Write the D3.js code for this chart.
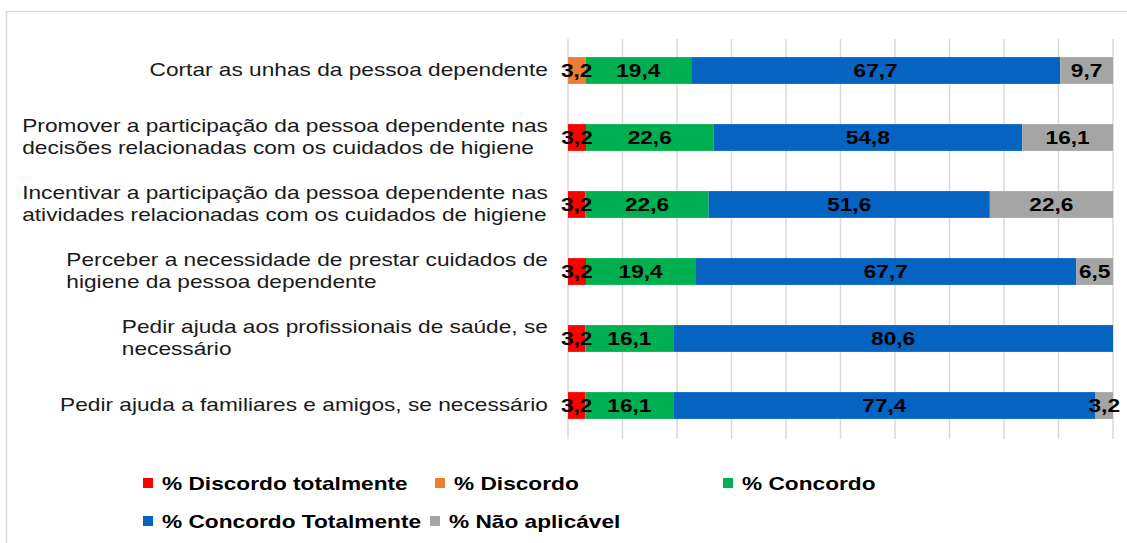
<!DOCTYPE html>
<html>
<head>
<meta charset="utf-8">
<script src="https://cdn.jsdelivr.net/npm/d3@7"></script>
<style>
  body { margin: 0; background: #fff; }
  svg { display: block; font-family: "Liberation Sans", Arial, sans-serif; }
</style>
</head>
<body>
<div id="main"></div>
<script>
// categories (one array of lines per bar, top to bottom)
const categories = [
  ["Cortar as unhas da pessoa dependente"],
  ["Promover a participação da pessoa dependente nas", "decisões relacionadas com os cuidados de higiene"],
  ["Incentivar a participação da pessoa dependente nas", "atividades relacionadas com os cuidados de higiene"],
  ["Perceber a necessidade de prestar cuidados de", "higiene da pessoa dependente"],
  ["Pedir ajuda aos profissionais de saúde, se", "necessário"],
  ["Pedir ajuda a familiares e amigos, se necessário"]
];

const seriesNames = ["% Discordo totalmente", "% Discordo", "% Concordo", "% Concordo Totalmente", "% Não aplicável"];
const seriesColors = ["#ff0000", "#ed7d31", "#00b050", "#0563c1", "#a5a5a5"];

const discordoTotalmente = [0, 3.2, 3.2, 3.2, 3.2, 3.2];
const discordo = [3.2, 0, 0, 0, 0, 0];
const concordo = [19.4, 22.6, 22.6, 19.4, 16.1, 16.1];
const concordoTotalmente = [67.7, 54.8, 51.6, 67.7, 80.6, 77.4];
const naoAplicavel = [9.7, 16.1, 22.6, 6.5, 0, 3.2];

const xTicks = [0, 0.1, 0.2, 0.3, 0.4, 0.5, 0.6, 0.7, 0.8, 0.9, 1];

var width = 1127, height = 543;
var sx = 1.26; // the text in the original is stretched sideways

var rows = categories.map(function(c, i) {
  return {
    id: i,
    lines: c,
    s0: discordoTotalmente[i],
    s1: discordo[i],
    s2: concordo[i],
    s3: concordoTotalmente[i],
    s4: naoAplicavel[i]
  };
});
var keys = ["s0", "s1", "s2", "s3", "s4"];

var stack = d3.stack().keys(keys).offset(d3.stackOffsetExpand);
var stacked = stack(rows);

var svg = d3.select("#main").append("svg")
  .attr("width", width)
  .attr("height", height);

// outer frame
svg.append("rect")
  .attr("x", 6.5).attr("y", 11.5)
  .attr("width", 1200).attr("height", 600)
  .style("fill", "none")
  .style("stroke", "#d9d9d9")
  .style("stroke-width", 1.5);

var x = d3.scaleLinear().domain([0, 1]).range([568, 1113]);
var y = d3.scaleBand().domain(rows.map(function(d) { return d.id; }))
  .range([37, 439]).paddingInner(0.6).paddingOuter(0.3);

// gridlines
svg.append("g")
  .selectAll("line")
  .data(xTicks)
  .enter()
  .append("line")
  .attr("x1", function(d) { return x(d); })
  .attr("x2", function(d) { return x(d); })
  .attr("y1", 39)
  .attr("y2", 439)
  .style("stroke", "#d9d9d9")
  .style("stroke-width", 1.5);

// bars
var layer = svg.append("g")
  .selectAll("g")
  .data(stacked)
  .enter()
  .append("g")
  .style("fill", function(d, i) { return seriesColors[i]; });

layer.selectAll("rect")
  .data(function(d) { return d; })
  .enter()
  .append("rect")
  .attr("x", function(d) { return x(d[0]); })
  .attr("y", function(d) { return y(d.data.id); })
  .attr("width", function(d) { return x(d[1]) - x(d[0]); })
  .attr("height", y.bandwidth());

// data labels
stacked.forEach(function(s) {
  svg.append("g")
    .selectAll("text")
    .data(s.filter(function(d) { return d.data[s.key] > 0; }))
    .enter()
    .append("text")
    .attr("transform", function(d) {
      var cx = (x(d[0]) + x(d[1])) / 2;
      var cy = y(d.data.id) + y.bandwidth() / 2 + 6.5;
      return "translate(" + cx + "," + cy + ") scale(" + sx + ",1)";
    })
    .style("text-anchor", "middle")
    .style("font-weight", "bold")
    .style("font-size", "18px")
    .style("fill", "#000")
    .text(function(d) { return d3.format(".1f")(d.data[s.key]).replace(".", ","); });
});

// category labels
var labelRight = 548, lineGap = 22;
var cat = svg.append("g")
  .selectAll("g")
  .data(rows)
  .enter()
  .append("g");

cat.each(function(d) {
  var g = d3.select(this);
  var n = d.lines.length;
  var cy = y(d.id) + y.bandwidth() / 2;
  var texts = g.selectAll("text")
    .data(d.lines)
    .enter()
    .append("text")
    .attr("y", function(l, j) { return cy + 6 + (j - (n - 1) / 2) * lineGap; })
    .style("font-size", "18px")
    .style("fill", "#1a1a1a")
    .text(function(l) { return l; });
  var w = d3.max(texts.nodes(), function(t) { return t.getComputedTextLength(); });
  g.attr("transform", "translate(" + (labelRight - w * sx) + ",0) scale(" + sx + ",1)");
});

// legend
var legendPos = [[143, 483], [435, 483], [723, 483], [143, 521], [430, 521]];
var leg = svg.append("g")
  .selectAll("g")
  .data(seriesNames)
  .enter()
  .append("g")
  .attr("transform", function(d, i) { return "translate(" + legendPos[i][0] + "," + legendPos[i][1] + ")"; });

leg.append("rect")
  .attr("x", 0).attr("y", -5)
  .attr("width", 10).attr("height", 10)
  .style("fill", function(d, i) { return seriesColors[i]; });

leg.append("text")
  .attr("transform", "translate(19,6.5) scale(" + sx + ",1)")
  .style("font-size", "18px")
  .style("font-weight", "bold")
  .style("fill", "#000")
  .text(function(d) { return d; });
</script>
</body>
</html>
